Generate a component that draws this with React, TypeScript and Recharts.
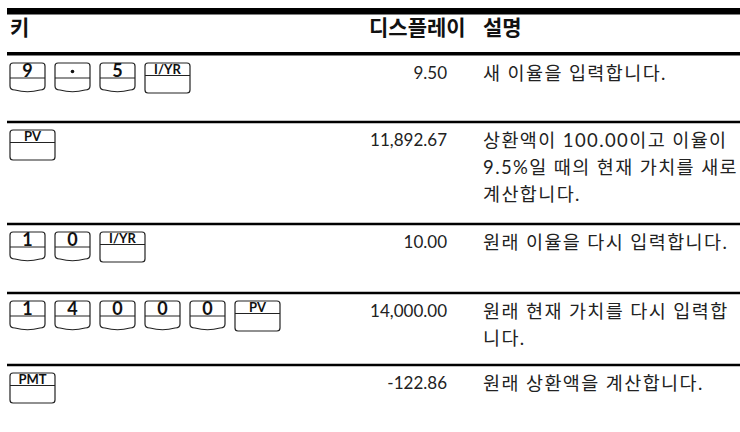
import React from "react";
import { Surface, Layer, Text, Rectangle } from "recharts";

const headers = ["키", "디스플레이", "설명"];

const keyRows = [
  ["9", ".", "5", "I/YR"],
  ["PV"],
  ["1", "0", "I/YR"],
  ["1", "4", "0", "0", "0", "PV"],
  ["PMT"],
];

const displays = ["9.50", "11,892.67", "10.00", "14,000.00", "-122.86"];

const descriptions = [
  ["새 이율을 입력합니다."],
  ["상환액이 100.00이고 이율이", "9.5%일 때의 현재 가치를 새로", "계산합니다."],
  ["원래 이율을 다시 입력합니다."],
  ["원래 현재 가치를 다시 입력합", "니다."],
  ["원래 상환액을 계산합니다."],
];

const functionKeys = ["I/YR", "PV", "PMT"];

const W = 740;
const H = 432;
const LEFT = 7;
const KEY_X = 10;
const DISPLAY_RIGHT = 447;
const DESC_X = 483;
const LINE_H = 27;
const ROW_PAD = 16;
const HEADER_RULE = 53.5;

const numFont = "Lato, 'Noto Sans CJK KR', sans-serif";
const krFont = "'Noto Sans CJK KR', sans-serif";

const SoftKey = ({ x, y, label }: { x: number; y: number; label: string }) => {
  const w = 35;
  const h = 30;
  const d = `M${x},${y + 3} Q${x},${y} ${x + 3},${y} L${x + w - 3},${y} Q${x + w},${y} ${x + w},${y + 3}
    L${x + w},${y + h - 7} Q${x + w},${y + h - 3} ${x + w - 5},${y + h - 3}
    Q${x + w / 2},${y + h + 0.5} ${x + 5},${y + h - 3} Q${x},${y + h - 3} ${x},${y + h - 7} Z`;
  return (
    <g>
      <path d={d} fill="none" stroke="#222" strokeWidth={1.2} />
      <line x1={x} x2={x + w} y1={y + 15} y2={y + 15} stroke="#222" strokeWidth={1.2} />
      {label === "." ? (
        <circle cx={x + w / 2} cy={y + 8.5} r={1.8} fill="#111" />
      ) : (
        <text
          x={x + w / 2}
          y={y + 14}
          textAnchor="middle"
          style={{ fontFamily: numFont, fontSize: 18, fontWeight: 700, fill: "#111" }}
        >
          {label}
        </text>
      )}
    </g>
  );
};

const FnKey = ({ x, y, label }: { x: number; y: number; label: string }) => {
  const w = 45;
  const h = 30;
  return (
    <g>
      <Rectangle x={x} y={y} width={w} height={h} radius={3} fill="none" stroke="#222" strokeWidth={1.2} />
      <line x1={x} x2={x + w} y1={y + 12.5} y2={y + 12.5} stroke="#222" strokeWidth={1.2} />
      <text
        x={x + w / 2}
        y={y + 11}
        textAnchor="middle"
        style={{ fontFamily: numFont, fontSize: 13, fontWeight: 700, fill: "#111" }}
      >
        {label}
      </text>
    </g>
  );
};

export default function App() {
  // row tops follow the number of description lines
  const rowTops: number[] = [];
  let top = HEADER_RULE + 1.5;
  const rowHeights = [67, 102, 69, 72, 67];
  rowHeights.forEach((hgt) => {
    rowTops.push(top);
    top += hgt;
  });

  const headStyle = { fontFamily: krFont, fontSize: 21, fontWeight: 700, fill: "#111" };

  return (
    <div style={{ position: "fixed", left: 0, top: 0, width: W, height: H, background: "#fff" }}>
      <Surface width={W} height={H}>
        <Rectangle x={LEFT} y={8} width={W - LEFT} height={6.5} fill="#000" />
        <Text x={10} y={28} verticalAnchor="middle" style={headStyle}>
          {headers[0]}
        </Text>
        <Text x={369} y={28} verticalAnchor="middle" style={headStyle}>
          {headers[1]}
        </Text>
        <Text x={DESC_X} y={28} verticalAnchor="middle" style={headStyle}>
          {headers[2]}
        </Text>
        <Rectangle x={LEFT} y={HEADER_RULE - 1.5} width={W - LEFT} height={3.5} fill="#000" />

        {keyRows.map((keys, i) => {
          const rt = rowTops[i];
          let kx = KEY_X;
          return (
            <Layer key={i}>
              {i > 0 && <Rectangle x={LEFT} y={rt - 1.2} width={W - LEFT} height={2.4} fill="#000" />}
              {keys.map((k, j) => {
                const isFn = functionKeys.includes(k);
                const el = isFn ? (
                  <FnKey key={j} x={kx} y={rt + 8} label={k} />
                ) : (
                  <SoftKey key={j} x={kx} y={rt + 8} label={k} />
                );
                kx += (isFn ? 45 : 35) + 10;
                return el;
              })}
              <Text
                x={DISPLAY_RIGHT}
                y={rt + ROW_PAD + 2}
                textAnchor="end"
                verticalAnchor="middle"
                style={{ fontFamily: numFont, fontSize: 17, fill: "#222" }}
              >
                {displays[i]}
              </Text>
              {descriptions[i].map((line, l) => (
                <Text
                  key={l}
                  x={DESC_X}
                  y={rt + ROW_PAD + 2 + l * LINE_H}
                  verticalAnchor="middle"
                  style={{ fontFamily: numFont, fontSize: 18.5, letterSpacing: 1.4, fill: "#222" }}
                >
                  {line}
                </Text>
              ))}
            </Layer>
          );
        })}
      </Surface>
    </div>
  );
}
